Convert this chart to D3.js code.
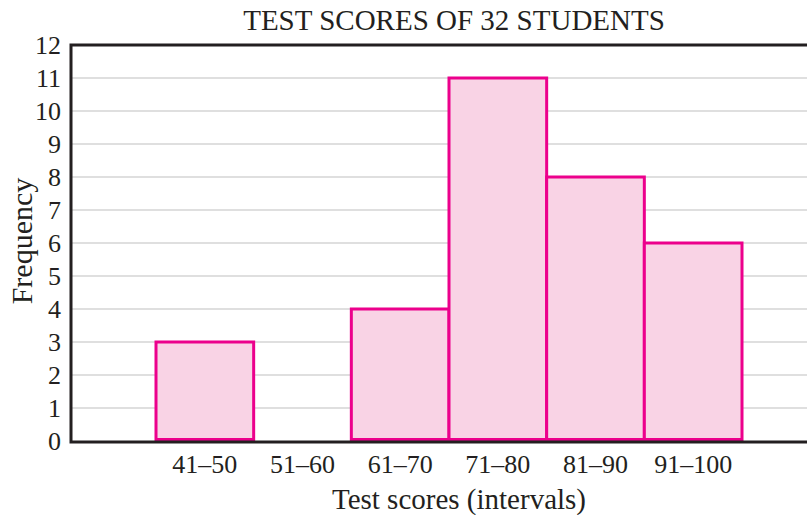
<!DOCTYPE html>
<html>
<head>
<meta charset="utf-8">
<script src="https://cdn.jsdelivr.net/npm/d3@7"></script>
<style>
  body { margin: 0; background: #fff; }
  svg { display: block; }
  text { font-family: "Liberation Serif", "DejaVu Serif", serif; fill: #231f20; }
</style>
</head>
<body>
<svg id="chart" width="807" height="515"></svg>
<script>
const categories = ["41–50", "51–60", "61–70", "71–80", "81–90", "91–100"];
const frequencies = [3, 0, 4, 11, 8, 6];
const yTicks = [0, 1, 2, 3, 4, 5, 6, 7, 8, 9, 10, 11, 12];
const titleText = "TEST SCORES OF 32 STUDENTS";
const xTitle = "Test scores (intervals)";
const yTitle = "Frequency";

const svg = d3.select("#chart");
const plotLeft = 71, plotRight = 812, plotTop = 45, plotBottom = 441;
const serif = '"Liberation Serif", "DejaVu Serif", serif';

const x = d3.scaleBand().domain(categories).range([156, 742]).paddingInner(0).paddingOuter(0);
const y = d3.scaleLinear().domain([0, 12]).range([plotBottom, plotTop]);

// grid lines
svg.append("g").selectAll("line").data(yTicks.filter(d => d > 0 && d < 12)).join("line")
  .attr("x1", plotLeft).attr("x2", plotRight)
  .attr("y1", d => y(d)).attr("y2", d => y(d))
  .attr("stroke", "#d4d4d4").attr("stroke-width", 1.5);

// bars
svg.append("g").selectAll("rect").data(categories.map((c, i) => ({c, v: frequencies[i]})).filter(d => d.v > 0)).join("rect")
  .attr("x", d => x(d.c))
  .attr("width", x.bandwidth())
  .attr("y", d => y(d.v))
  .attr("height", d => y(0) - 1.5 - y(d.v))
  .attr("fill", "#f9d3e5")
  .attr("stroke", "#ec008c")
  .attr("stroke-width", 3);

// frame: top, left, bottom
svg.append("path")
  .attr("d", `M${plotRight},${plotTop}H${plotLeft}V${plotBottom + 1}H${plotRight}`)
  .attr("fill", "none").attr("stroke", "#231f20").attr("stroke-width", 3);

// y axis tick labels
const yAxis = d3.axisLeft(y).tickValues(yTicks).tickSize(0).tickPadding(10).tickFormat(d3.format("d"));
const gy = svg.append("g").attr("transform", `translate(${plotLeft},0)`).call(yAxis);
gy.select(".domain").remove();
gy.selectAll("text")
  .style("font-family", serif).style("font-size", "26px")
  .attr("fill", "#231f20").attr("dy", "0.34em");

// x axis tick labels
const xAxis = d3.axisBottom(x).tickSize(0).tickPadding(12);
const gx = svg.append("g").attr("transform", `translate(0,${plotBottom})`).call(xAxis);
gx.select(".domain").remove();
gx.selectAll("text")
  .style("font-family", serif).style("font-size", "26px")
  .attr("fill", "#231f20").attr("dy", "0.75em");

// titles
svg.append("text").attr("x", 454).attr("y", 30).attr("text-anchor", "middle")
  .style("font-family", serif).style("font-size", "29px").text(titleText);
svg.append("text").attr("x", 459).attr("y", 509).attr("text-anchor", "middle")
  .style("font-family", serif).style("font-size", "29px").text(xTitle);
svg.append("text").attr("transform", "translate(32,241) rotate(-90)").attr("text-anchor", "middle")
  .style("font-family", serif).style("font-size", "30px").text(yTitle);
</script>
</body>
</html>
